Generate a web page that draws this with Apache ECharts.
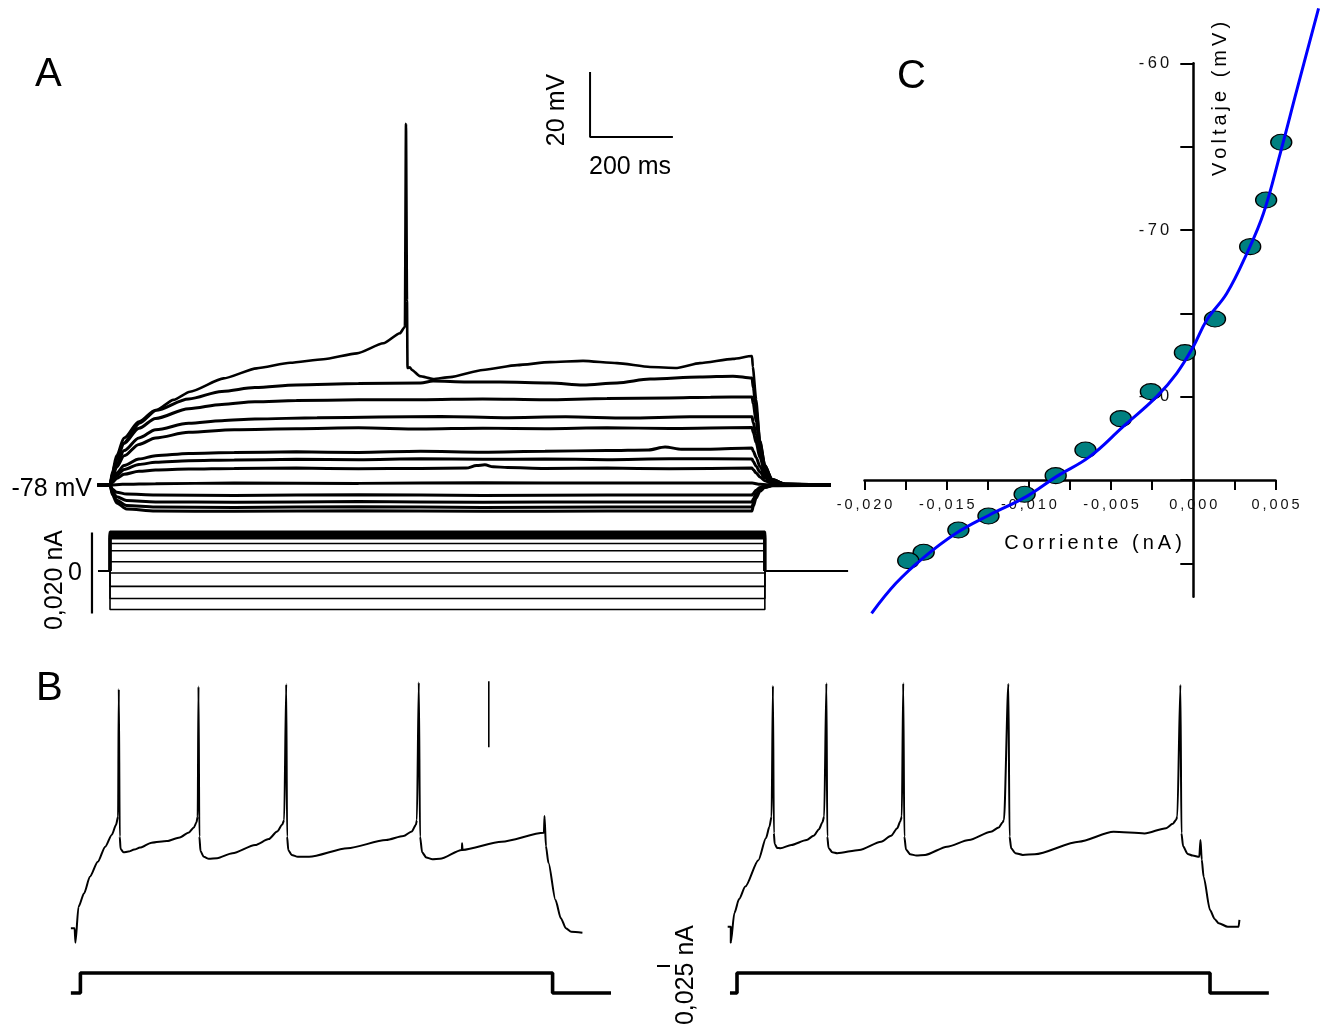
<!DOCTYPE html>
<html lang="es">
<head>
<meta charset="UTF-8">
<title>Respuestas a pulsos de corriente y curva I-V</title>
<style>
  html, body { margin: 0; padding: 0; background: #fff; }
  #chart { width: 1324px; height: 1027px; }
</style>
</head>
<body>
<div id="chart"></div>
<script src="https://cdn.jsdelivr.net/npm/echarts@6.0.0/dist/echarts.min.js"></script>
<script>
// ---------------- Panel A: voltage traces (t in ms, V in mV) ----------------
var traceA1 = [[-30,-78],[0,-78],[5,-75],[12,-71.3],[32,-65.2],[72,-59],[113,-54.9],[153,-51.8],[193,-49.3],[274,-45.2],[354,-42.1],[435,-40.4],[515,-39.3],[596,-37.5],[660,-34.4],[700,-31.3],[712,-29.3],[714.6,33.1],[717,-21.1],[718.3,-42],[724,-41.8],[729,-42.6],[748,-44.5],[780,-45.4],[821,-44.8],[900,-42.6],[983,-41.1],[1062,-40.2],[1142,-39.8],[1224,-40.5],[1304,-41.7],[1369,-42],[1424,-40.5],[1504,-39.2],[1550,-38.3],[1552,-41.7],[1560,-51.8],[1569,-64.2],[1581,-71.8],[1598,-76.2],[1630,-77.7],[1740,-78]];
var traceA2 = [[-30,-78],[0,-78],[6,-74],[16,-69],[34,-63.5],[70,-58.5],[110,-55],[190,-51.5],[270,-49.2],[350,-48],[450,-47.2],[600,-46.8],[750,-46.6],[780,-46],[862,-46.3],[942,-46.3],[1062,-46.6],[1142,-47.2],[1224,-46.6],[1304,-45.4],[1424,-44.8],[1504,-44.5],[1550,-45.1],[1553,-48],[1560,-55],[1569,-64.5],[1581,-72],[1598,-76.3],[1630,-77.7],[1740,-78]];
var traceA3 = [[-30,-78],[0,-78],[6,-74.6],[16,-70.2],[34,-65.2],[70,-60.5],[110,-57.5],[190,-54.5],[270,-53.2],[350,-52.4],[450,-52],[600,-51.8],[750,-51.8],[900,-51.5],[1050,-51.8],[1200,-51.4],[1350,-51.2],[1450,-51],[1550,-50.9],[1553,-53],[1560,-58.5],[1569,-66],[1581,-72.5],[1598,-76.4],[1630,-77.7],[1740,-78]];
var traceA4 = [[-30,-78],[0,-78],[6,-75.2],[16,-71.5],[34,-67.4],[70,-63.5],[110,-61],[190,-59],[270,-58.2],[350,-57.7],[500,-57.3],[650,-57.1],[800,-56.9],[950,-57.3],[1100,-57],[1250,-57.4],[1400,-57],[1550,-57],[1553,-58.8],[1560,-62.5],[1569,-68],[1581,-73.3],[1598,-76.6],[1630,-77.8],[1740,-78]];
var traceA5 = [[-30,-78],[0,-78],[6,-75.6],[16,-72.5],[34,-69],[70,-65.5],[110,-63.5],[190,-61.8],[300,-61],[450,-60.7],[600,-60.4],[750,-60.8],[900,-60.5],[1050,-60.7],[1200,-60.4],[1350,-60.6],[1550,-60.3],[1553,-61.8],[1560,-65],[1569,-69.5],[1581,-74],[1598,-76.8],[1630,-77.8],[1740,-78]];
var traceA6 = [[-30,-78],[0,-78],[6,-76.4],[16,-74.3],[34,-72],[70,-70],[110,-69],[190,-68.3],[300,-68],[450,-67.8],[600,-68],[750,-67.6],[900,-67.9],[1050,-67.6],[1200,-67.4],[1300,-67.2],[1340,-66.3],[1380,-67],[1450,-67],[1550,-66.6],[1553,-67.6],[1560,-69.5],[1569,-72.3],[1581,-75],[1598,-77],[1630,-77.9],[1740,-78]];
var traceA7 = [[-30,-78],[0,-78],[6,-76.8],[16,-75.1],[34,-73.2],[70,-71.7],[110,-71],[190,-70.5],[300,-70.3],[450,-70.1],[600,-70.2],[750,-69.9],[900,-70.1],[1050,-70],[1200,-70.2],[1350,-69.9],[1550,-70],[1553,-70.8],[1560,-72.2],[1569,-74],[1581,-75.8],[1598,-77.2],[1630,-77.9],[1740,-78]];
var traceA8 = [[-30,-78],[0,-78],[6,-77.2],[16,-76],[34,-74.7],[70,-73.8],[110,-73.4],[190,-73.1],[300,-72.9],[450,-72.8],[600,-73],[750,-72.9],[860,-72.8],[885,-72],[905,-71.8],[925,-72.4],[960,-72.6],[1050,-72.9],[1200,-72.8],[1350,-73],[1550,-72.8],[1553,-73.3],[1560,-74.3],[1569,-75.5],[1581,-76.7],[1598,-77.5],[1630,-78],[1740,-78]];
var traceA9 = [[-30,-78],[0,-78],[30,-77.8],[110,-77.6],[300,-77.4],[600,-77.5],[900,-77.3],[1200,-77.4],[1550,-77.4],[1570,-77.8],[1600,-78],[1740,-78]];
var traceA10 = [[-30,-78],[0,-78],[6,-79.3],[16,-80.2],[40,-80.8],[110,-81.1],[300,-81.2],[600,-81],[900,-81.2],[1200,-81.1],[1550,-81.1],[1553,-80.6],[1560,-79.6],[1569,-78.8],[1581,-78.3],[1600,-78],[1740,-78]];
var traceA11 = [[-30,-78],[0,-78],[6,-80.1],[16,-81.6],[40,-82.8],[110,-83.2],[300,-83.3],[600,-83.1],[900,-83.3],[1200,-83.2],[1550,-83.2],[1553,-82.3],[1560,-80.6],[1569,-79.2],[1581,-78.5],[1600,-78.1],[1740,-78]];
var traceA12 = [[-30,-78],[0,-78],[6,-80.6],[16,-82.7],[40,-84.3],[110,-84.8],[300,-84.9],[600,-84.7],[900,-84.9],[1200,-84.8],[1550,-84.8],[1553,-83.6],[1560,-81.3],[1569,-79.6],[1581,-78.7],[1600,-78.1],[1740,-78]];
var traceA13 = [[-30,-78],[0,-78],[6,-81],[16,-83.5],[40,-85.4],[110,-86],[300,-86.1],[600,-85.9],[900,-86.1],[1200,-86],[1550,-86],[1553,-84.5],[1560,-82],[1569,-80],[1581,-78.8],[1600,-78.2],[1740,-78]];
var scaleBarA = [[1159, 49.1], [1159, 29.1], [1359, 29.1]];   // 20 mV / 200 ms

// ---------------- Panel A: injected current steps (nA) ----------------
var currentLevelsA = [0.0097, 0.0094, 0.0091, 0.0088, 0.0085, 0.0081, 0.0068, 0.005, 0.0023, -0.0005, -0.0038, -0.0068, -0.0095];
var stepOnA = 0, stepOffA = 1581;
var baselineBeforeA = [[-29, 0], [0, 0]];
var baselineAfterA = [[1581, 0], [1782, 0]];
var currentBarA = [[-43.5, 0.0095], [-43.5, -0.0105]];         // 0,020 nA

// ---------------- Panel B: spike trains (t in ms, V in mV) ----------------
var traceB1 = [[-23,-75.8],[-14,-75.8],[-12,-80.2],[-4.6,-69.3],[9,-65.2],[23,-60.2],[42,-55.7],[60,-51.1],[76,-47.5],[86,-44.5],[91,-42],[92.7,-3.4],[95,-48],[97,-51.8],[104,-52.8],[116,-52.6],[130,-52],[144,-51.4],[172,-49.9],[209,-49.4],[240,-48.3],[262,-46.8],[274,-45.3],[280,-43.8],[283.2,-42],[285.1,-2.6],[287.2,-48],[290,-52.5],[298,-54.2],[310,-54.8],[330,-54.6],[367,-53.1],[422,-50.6],[455,-48.8],[475,-46.5],[487,-44.5],[492,-43],[496.9,-1.9],[499,-48],[502,-52.2],[510,-53.6],[525,-54.2],[552,-54.2],[645,-51.6],[738,-49.1],[780,-47.9],[800,-46.5],[810,-44.5],[812.4,-43],[817,-1.4],[820,-48],[825,-52.8],[835,-54.4],[850,-54.9],[868,-54.8],[921,-52.1],[921.5,-50.1],[922.5,-52.1],[1017,-49.6],[1119,-46.9],[1120.5,-41.8],[1124,-51],[1130,-56],[1147,-67.3],[1160,-72.8],[1172,-75.8],[1185,-76.9],[1212,-77.2]];
var scaleBarB = [[986, -1], [986, -21]];
var stepB1 = [[-23,0],[0,0],[0,0.04],[1140,0.04],[1140,0],[1281,0]];

var traceB2 = [[-22.5,-75.4],[-15,-75.4],[-15,-80.2],[-6.5,-71.3],[5,-67],[20,-63.2],[51.7,-55.2],[70,-48.5],[78.2,-45.1],[83.5,-42],[86.7,-2.4],[89,-47],[91,-50.3],[97,-51.5],[104.8,-51.6],[131,-50.6],[168,-49.1],[185,-47.8],[198,-45.8],[206,-43.8],[210.5,-42],[215.8,-1.6],[218,-48],[221,-51.5],[230,-52.8],[242,-53.1],[295,-52.1],[348,-49.6],[372,-47.8],[387,-45.5],[394,-43.5],[397.9,-42],[401.3,-1.6],[404,-48],[408,-52],[418,-53.4],[433,-53.8],[454,-53.6],[507,-51.1],[560,-49.1],[613,-46.6],[632,-45.3],[641,-43.8],[644.6,-43],[655.2,-1.8],[658,-48],[662,-51.6],[672,-53.1],[690,-53.6],[719,-53.4],[825,-49.6],[909,-46.6],[984,-47.1],[1036,-45.5],[1052,-44.2],[1060,-43],[1063,-42],[1070.5,-2.1],[1073,-47],[1077,-51],[1088,-53.3],[1100,-53.8],[1116,-54.2],[1119,-49.1],[1122,-55],[1126.5,-60.2],[1142,-70.3],[1153,-73],[1163,-74.3],[1185,-75.4],[1211,-75.4],[1213,-73.3]];
var stepB2 = [[-17,0],[0,0],[0,0.04],[1142,0.04],[1142,0],[1284,0]];

// ---------------- Panel C: I-V relation ----------------
var ivCurrent = [0.00535, 0.00443, 0.00346, 0.00132, -0.00051, -0.00258, -0.00441, -0.00656, -0.00837, -0.01026, -0.01246, -0.01429, -0.0164, -0.01734];
var ivVoltage = [-64.74, -68.2, -71.0, -75.34, -77.36, -79.7, -81.32, -83.2, -84.74, -85.86, -87.16, -88.0, -89.34, -89.84];
var fitCurrent = [-0.01957, -0.01809, -0.01646, -0.01443, -0.0124, -0.01016, -0.00833, -0.0063, -0.00427, -0.00223, -0.00101, 0, 0.00082, 0.00204, 0.00326, 0.00427, 0.00529, 0.0063, 0.00762];
var fitVoltage = [-93.0, -91.2, -89.7, -88.2, -87.1, -86.0, -84.8, -83.6, -81.8, -80.0, -78.6, -77.0, -75.4, -73.8, -71.4, -69.0, -65.4, -61.6, -56.7];
var xTicksC = [-0.02, -0.0175, -0.015, -0.0125, -0.01, -0.0075, -0.005, -0.0025, 0, 0.0025, 0.005];
var xLabelsC = [-0.02, -0.015, -0.01, -0.005, 0, 0.005];
var yTicksC = [-90, -85, -80, -75, -70, -65, -60];
var yLabelsC = [-80, -70, -60];
var xCrossC = -85;   // the current axis crosses the voltage axis here
var yCrossC = 0;     // the voltage axis crosses the current axis here

var FONT = 'Liberation Sans, Arial, Helvetica, sans-serif';
var chart = echarts.init(document.getElementById('chart'), null, { renderer: 'canvas' });

// grid from an anchor pixel + pixels per unit
function place(ax, apx, kx, xr, ay, apy, ky, yr) {
    return {
        left: apx + (xr[0] - ax) * kx,
        width: (xr[1] - xr[0]) * kx,
        top: apy - (yr[1] - ay) * ky,
        height: (yr[1] - yr[0]) * ky,
        outerBoundsMode: 'none'
    };
}
function spaced(s) { return String(s).split('').join('\u2009'); }
function comma(v) { return spaced(v.toFixed(3).replace('.', ',')); }
function pairs(xs, ys) { return xs.map(function (x, i) { return [x, ys[i]]; }); }

var msPx = 0.4142;
var rangeA = [-50, 1800], rangeB = [-50, 1300];
var ranges = [
    [rangeA, [-90, 52]], [rangeA, [-0.012, 0.012]],
    [rangeB, [-85, 5]], [rangeB, [-0.02, 0.06]],
    [rangeB, [-85, 5]], [rangeB, [-0.02, 0.06]],
    [[-0.022, 0.009], [-95, -55]]            // plotting area for panel C data
];
var kxC = 16440, kyC = 16.667;
var axC = [[-0.02, 0.005], [-92, -60]];      // visible axes of panel C
var grids = [
    place(0, 110, msPx, rangeA, -78, 485, 3.25, ranges[0][1]),
    place(0, 110, msPx, rangeA, 0, 571, 4050, ranges[1][1]),
    place(0, 80.4, msPx, rangeB, -80, 942, 3.3, ranges[2][1]),
    place(0, 80.4, msPx, rangeB, 0, 993, 500, ranges[3][1]),
    place(0, 737, msPx, rangeB, -80, 942, 3.3, ranges[4][1]),
    place(0, 737, msPx, rangeB, 0, 993, 500, ranges[5][1]),
    place(0, 1193.3, kxC, ranges[6][0], -60, 63.3, kyC, ranges[6][1]),
    place(0, 1193.3, kxC, axC[0], -60, 63.3, kyC, axC[1])
];

var xAxes = [], yAxes = [];
ranges.forEach(function (r, i) {
    xAxes.push({ gridIndex: i, type: 'value', min: r[0][0], max: r[0][1], show: false });
    yAxes.push({ gridIndex: i, type: 'value', min: r[1][0], max: r[1][1], show: false });
});
var axisBlack = { color: '#000', width: 2.5 };
xAxes.push({
    gridIndex: 7, type: 'value', min: axC[0][0], max: axC[0][1], position: 'bottom',
    offset: -(xCrossC - axC[1][0]) * kyC,
    axisLine: { onZero: false, lineStyle: axisBlack },
    axisTick: { customValues: xTicksC, length: 10, lineStyle: { color: '#000', width: 2 } },
    axisLabel: { customValues: xLabelsC, formatter: comma, margin: 18, fontSize: 14.5, color: '#111', fontFamily: FONT },
    splitLine: { show: false }
});
yAxes.push({
    gridIndex: 7, type: 'value', min: axC[1][0], max: axC[1][1], position: 'left',
    offset: -(yCrossC - axC[0][0]) * kxC,
    axisLine: { onZero: false, lineStyle: axisBlack },
    axisTick: { customValues: yTicksC, length: 13, lineStyle: { color: '#000', width: 2 } },
    axisLabel: { customValues: yLabelsC, formatter: function (v) { return spaced(v); }, margin: 24, padding: [8, 0, 0, 0], fontSize: 16.5, color: '#111', fontFamily: FONT },
    splitLine: { show: false }
});

function trace(data, g, w, smooth) {
    return {
        type: 'line', data: data, xAxisIndex: g, yAxisIndex: g, symbol: 'none',
        smooth: smooth || false, smoothMonotone: 'x', silent: true,
        lineStyle: { color: '#000', width: w }
    };
}

var series = [];
[traceA2, traceA3, traceA4, traceA5, traceA6, traceA7, traceA8, traceA9, traceA10, traceA11, traceA12, traceA13].forEach(function (d) {
    series.push(trace(d, 0, 3, 0.3));
});
series.push(trace(traceA1, 0, 2.6, 0.2));
series.push(trace(scaleBarA, 0, 2, false));

currentLevelsA.forEach(function (L, i) {
    series.push(trace([[stepOnA, 0], [stepOnA, L], [stepOffA, L], [stepOffA, 0]], 1, i < 6 ? 2.6 : 1.6, false));
});
series.push(trace(baselineBeforeA, 1, 2.2, false));
series.push(trace(baselineAfterA, 1, 2, false));
series.push(trace(currentBarA, 1, 2.2, false));

series.push(trace(traceB1, 2, 2, 0.25));
series.push(trace(scaleBarB, 2, 1.6, false));
series.push(trace(stepB1, 3, 3.6, false));
series.push(trace(traceB2, 4, 2, 0.25));
series.push(trace(stepB2, 5, 3.6, false));

series.push({
    type: 'scatter', xAxisIndex: 6, yAxisIndex: 6, data: pairs(ivCurrent, ivVoltage),
    symbol: 'path://M0,10A10,10,0,1,0,20,10A10,10,0,1,0,0,10Z', symbolSize: [21, 16],
    itemStyle: { color: '#008080', borderColor: '#000', borderWidth: 1.2, opacity: 1 },
    silent: true, z: 3
});
series.push({
    type: 'line', xAxisIndex: 6, yAxisIndex: 6, data: pairs(fitCurrent, fitVoltage),
    symbol: 'none', smooth: 0.4, silent: true, z: 4,
    lineStyle: { color: '#0000ff', width: 3 }
});

function label(text, x, y, size, opts) {
    opts = opts || {};
    return {
        type: 'text', x: x, y: y, rotation: opts.rot || 0, z: 10,
        style: {
            text: text, fill: '#000', fontSize: size, fontFamily: FONT,
            align: opts.align || 'center', textAlign: opts.align || 'center',
            verticalAlign: 'middle', textVerticalAlign: 'middle'
        }
    };
}

var option = {
    animation: false,
    backgroundColor: '#fff',
    grid: grids,
    xAxis: xAxes,
    yAxis: yAxes,
    series: series,
    graphic: [
        label('A', 35, 75, 40, { align: 'left' }),
        label('B', 36, 689, 40, { align: 'left' }),
        label('C', 897, 77, 40, { align: 'left' }),
        label('-78 mV', 92, 489, 25, { align: 'right' }),
        label('0', 75, 573, 25),
        label('0,020 nA', 55, 580, 25, { rot: Math.PI / 2 }),
        label('20 mV', 557, 110, 25, { rot: Math.PI / 2 }),
        label('200 ms', 630, 167, 25),
        label('0,025 nA', 686, 975, 25, { rot: Math.PI / 2 }),
        label(spaced('Corriente (nA)'), 1093, 543, 20),
        label(spaced('Voltaje (mV)'), 1220, 99, 20, { rot: Math.PI / 2 }),
        { type: 'line', z: 10, shape: { x1: 657, y1: 966, x2: 670, y2: 966 }, style: { stroke: '#000', lineWidth: 2 } }
    ]
};

chart.setOption(option);
</script>
</body>
</html>
